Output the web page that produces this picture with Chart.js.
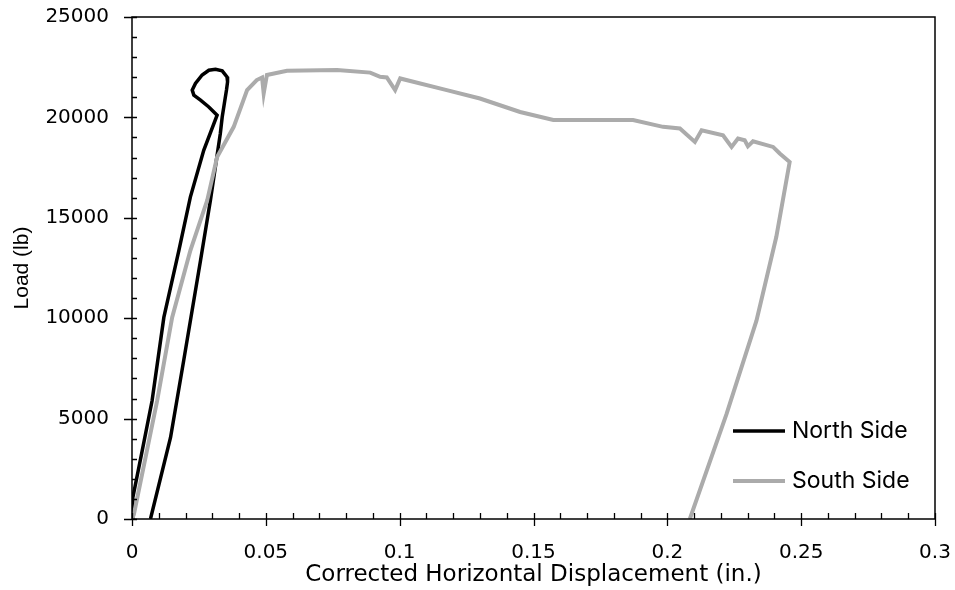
<!DOCTYPE html>
<html>
<head>
<meta charset="utf-8">
<script src="https://cdn.jsdelivr.net/npm/chart.js@4"></script>
<style>
  html, body { margin: 0; padding: 0; background: #fff; }
  #wrap { width: 955px; height: 590px; }
</style>
</head>
<body>
<div id="wrap"><canvas id="loadChart" width="955" height="590"></canvas></div>
<script>
// displacement (in.) and load (lb)
const northX = [0, 0.0003, 0.0038, 0.0075, 0.0119, 0.0175, 0.0218, 0.0268, 0.0318,
  0.0287, 0.0256, 0.0231, 0.0225, 0.0237, 0.0262, 0.0287, 0.0312, 0.0337, 0.0355, 0.0357,
  0.0353, 0.0345, 0.0337, 0.0330, 0.0293, 0.0256, 0.0193, 0.0144, 0.0069];
const northLoad = [0, 1060, 3390, 5890, 10040, 13370, 16030, 18360, 20110,
  20520, 20860, 21110, 21360, 21690, 22110, 22350, 22400, 22320, 22020, 21770,
  21360, 20690, 20020, 19200, 15870, 12870, 7880, 4060, 0];

const southX = [0, 0.0007, 0.0094, 0.0150, 0.0218, 0.0281, 0.0318, 0.0380, 0.0430, 0.0466,
  0.0486, 0.0492, 0.0504, 0.0579, 0.0766, 0.0890, 0.0927, 0.0952, 0.0983, 0.1002,
  0.1176, 0.1300, 0.1450, 0.1574, 0.1872, 0.1984, 0.2047, 0.2103, 0.2128, 0.2208,
  0.2240, 0.2264, 0.2289, 0.2301, 0.2320, 0.2395, 0.2420, 0.2457,
  0.2407, 0.2333, 0.2221, 0.2084];
const southLoad = [0, 230, 5890, 10040, 13370, 15870, 18030, 19530, 21360, 21860,
  21990, 21190, 22110, 22320, 22360, 22230, 22020, 21990, 21360, 21940,
  21360, 20940, 20270, 19870, 19870, 19530, 19450, 18780, 19360, 19110,
  18530, 18950, 18860, 18560, 18810, 18530, 18200, 17780,
  14040, 9880, 5220, 0];

const seriesNames = ['North Side', 'South Side'];
const seriesColors = ['#000000', '#ABABAB'];

const xMin = 0, xMax = 0.3, xMajor = 0.05, xMinor = 0.01;
const yMin = 0, yMax = 25000, yMajor = 5000, yMinor = 1000;

function toPoints(xs, ys){ return xs.map((x, i) => ({ x, y: ys[i] })); }

// tick label padding would otherwise push the plot area inwards
function noOverhang(scale){
  scale.paddingTop = scale.paddingBottom = scale.paddingLeft = scale.paddingRight = 0;
}

// frame, Excel-style major/minor tick marks and the inset legend
const excelAxes = {
  id: 'excelAxes',
  afterDatasetsDraw(chart, args, opts){
    const { ctx, chartArea: a, scales: { x, y } } = chart;
    ctx.save();
    ctx.strokeStyle = '#000';
    ctx.lineWidth = 1.5;
    ctx.strokeRect(a.left, a.top, a.right - a.left, a.bottom - a.top);
    ctx.lineWidth = 1.3;
    ctx.beginPath();
    for (let v = yMin; v <= yMax + 1e-6; v += yMinor){
      const py = Math.round(y.getPixelForValue(v)) + 0.5;
      const major = Math.abs(v % yMajor) < 1e-6;
      ctx.moveTo(a.left - (major ? 8 : 0), py);
      ctx.lineTo(a.left + 5, py);
    }
    for (let i = 0; i <= Math.round((xMax - xMin) / xMinor); i++){
      const v = xMin + i * xMinor;
      const px = Math.round(x.getPixelForValue(v)) + 0.5;
      const major = i % Math.round(xMajor / xMinor) === 0;
      ctx.moveTo(px, a.bottom + (major ? 7 : 0));
      ctx.lineTo(px, a.bottom - 6);
    }
    ctx.stroke();

    // legend
    ctx.font = opts.font;
    ctx.textBaseline = 'middle';
    ctx.textAlign = 'left';
    chart.data.datasets.forEach((ds, i) => {
      const ly = opts.top + i * opts.rowGap;
      ctx.strokeStyle = ds.borderColor;
      ctx.lineWidth = ds.borderWidth;
      ctx.beginPath();
      ctx.moveTo(opts.left, ly);
      ctx.lineTo(opts.left + opts.lineLen, ly);
      ctx.stroke();
      ctx.fillStyle = '#000';
      ctx.fillText(ds.label, opts.left + opts.lineLen + 7, ly);
    });
    ctx.restore();
  }
};

new Chart(document.getElementById('loadChart'), {
  type: 'scatter',
  data: {
    datasets: [
      { label: seriesNames[0], data: toPoints(northX, northLoad), showLine: true,
        borderColor: seriesColors[0], backgroundColor: seriesColors[0], borderWidth: 3.5,
        pointRadius: 0, tension: 0, order: 2 },
      { label: seriesNames[1], data: toPoints(southX, southLoad), showLine: true,
        borderColor: seriesColors[1], backgroundColor: seriesColors[1], borderWidth: 4,
        pointRadius: 0, tension: 0, order: 1 }
    ]
  },
  options: {
    responsive: false,
    animation: false,
    devicePixelRatio: 1,
    layout: { padding: { left: 0, right: 20, top: 17, bottom: 0 } },
    plugins: {
      legend: { display: false },
      tooltip: { enabled: false },
      excelAxes: { left: 733, top: 431, rowGap: 50, lineLen: 52, font: '23px Inter' }
    },
    scales: {
      x: {
        type: 'linear', min: xMin, max: xMax,
        grid: { display: false, drawTicks: false },
        border: { display: false },
        ticks: { stepSize: xMajor, padding: 22, color: '#000',
          font: { family: 'DejaVu Sans', size: 20 },
          callback: v => +v.toFixed(2) + '' },
        title: { display: true, text: 'Corrected Horizontal Displacement (in.)', color: '#000',
          font: { family: 'DejaVu Sans', size: 23 }, padding: { top: 0, bottom: 1 } },
        afterFit(scale){ scale.height = 71; noOverhang(scale); }
      },
      y: {
        type: 'linear', min: yMin, max: yMax,
        grid: { display: false, drawTicks: false },
        border: { display: false },
        ticks: { stepSize: yMajor, padding: 23, color: '#000',
          font: { family: 'DejaVu Sans', size: 20 },
          callback: v => v + '' },
        title: { display: true, text: 'Load (lb)', color: '#000',
          font: { family: 'Liberation Sans', size: 21 }, padding: { top: 10, bottom: 0 } },
        afterFit(scale){ scale.width = 132; noOverhang(scale); }
      }
    }
  },
  plugins: [excelAxes]
});
</script>
</body>
</html>
